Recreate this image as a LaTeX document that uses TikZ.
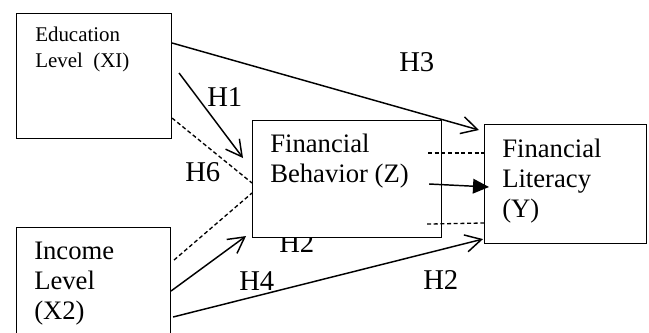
\documentclass[tikz,border=0pt]{standalone}
\usepackage{fontspec}
\setmainfont{Liberation Serif}
\usetikzlibrary{arrows.meta,calc}
\tikzset{
  model box/.style={
    draw=black,
    fill=white,
    line width=0.8pt,
    inner sep=0pt,
    anchor=north west
  },
  model text/.style={
    inner sep=0pt,
    anchor=base west,
    align=left,
    font=\fontsize{20pt}{22.3pt}\selectfont
  },
  model small text/.style={
    inner sep=0pt,
    anchor=base west,
    align=left,
    font=\fontsize{15.7pt}{19.5pt}\selectfont
  },
  model flow/.style={-{Straight Barb[length=12pt,width=13pt,line width=1.1pt]},draw=black,line width=1.1pt},
  model main flow/.style={-{Triangle[length=12pt,width=11pt]},draw=black,line width=1.1pt},
  model mediation/.style={draw=black,line width=1pt,dash pattern=on 3pt off 2pt},
  model label/.style={
    inner sep=0pt,
    anchor=base west,
    font=\fontsize{21.5pt}{22pt}\selectfont
  }
}

\begin{document}
\begin{tikzpicture}[x=0.75pt,y=-0.75pt]
  \useasboundingbox (0,0) rectangle (649,332);

  % hypothesis labels (H2 below behaviour box sits under it)
  \node[model label] (hthree) at (399,71) {H3};
  \node[model label] (hone) at (207,106) {H1};
  \node[model label] (hsix) at (185,181) {H6};
  \node[model label] (htwolow) at (279,252) {H2};
  \node[model label] (hfour) at (239,290) {H4};
  \node[model label] (htworight) at (423,289) {H2};

  % variables
  \node[model box,minimum width=155*0.75pt,minimum height=125*0.75pt] (edu) at (16,13) {};
  \node[model box,minimum width=189*0.75pt,minimum height=117*0.75pt] (beh) at (252,120) {};
  \node[model box,minimum width=162*0.75pt,minimum height=119*0.75pt] (lit) at (484,124) {};
  \node[model box,minimum width=154*0.75pt,minimum height=110*0.75pt] (inc) at (16,227) {};

  % base = baseline of the last line
  \node[model small text] (edutext) at (35,67) {Education\\Level~~(XI)};
  \node[model text] (behtext) at (270,182) {Financial\\Behavior (Z)};
  \node[model text] (littext) at (502,217) {Financial\\Literacy\\(Y)};
  \node[model text] (inctext) at (34,319) {Income\\Level\\(X2)};

  % paths
  \draw[model flow] ($(edu.north east)+(0,30)$) -- ($(lit.north west)+(-5,6)$);
  \draw[model flow] ($(edu.north east)+(7,60)$) -- ($(beh.north west)+(-9,38)$);
  \draw[model mediation] ($(edu.south east)+(0,-21)$) -- ($(beh.north west)+(0,63)$);
  \draw[model mediation] ($(inc.north east)+(3,33)$) -- ($(beh.north west)+(0,73)$);
  \draw[model flow] ($(inc.north east)+(0,64)$) -- ($(beh.south west)+(-6,-2)$);
  \draw[model flow] ($(inc.north east)+(2,90)$) -- ($(lit.south west)+(-1,-5)$);
  \draw[model main flow] ($(beh.north east)+(-13,64)$) -- ($(lit.north west)+(5,63)$);
  \draw[model mediation] ($(beh.north east)+(-14,33)$) -- ($(lit.north west)+(0,29)$);
  \draw[model mediation] ($(beh.south east)+(-15,-14)$) -- ($(lit.north west)+(0,99)$);
\end{tikzpicture}
\end{document}
